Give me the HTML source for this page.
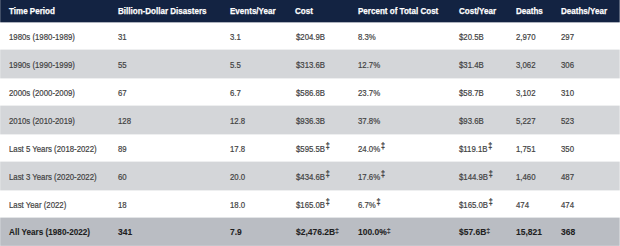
<!DOCTYPE html><html><head><meta charset='utf-8'><style>
html,body{margin:0;padding:0;width:620px;height:246px;overflow:hidden;background:#fff}
.r{position:absolute;left:0;width:620px;}
.h{top:0;height:22px;background:#132342;}
.t{position:absolute;white-space:nowrap;font-family:"Liberation Sans",sans-serif;transform-origin:0 0;}
.hb{font-weight:bold;font-size:9.3px;color:#fff;transform:scaleX(0.865);top:6.2px;-webkit-text-stroke:0.25px #fff;}
.d{font-size:9px;color:#424242;transform:scaleX(0.867);top:9.5px;-webkit-text-stroke:0.2px #424242;}
.tot{font-weight:bold;color:#1e1e1e;transform:scaleX(0.94);top:9.2px;-webkit-text-stroke:0.1px #1e1e1e;}
.tot.c0{transform:scaleX(0.906);}
.tot sup{top:-2.4px;font-size:7.5px;margin-left:0px;font-weight:normal;}
.tot.c3,.tot.c5{margin-left:0.3px;}
sup{font-size:8.2px;vertical-align:baseline;position:relative;top:-2.5px;margin-left:0.9px;font-weight:bold;}
</style></head><body>
<div class='r h'>
<span class='t hb' style='left:8.6px'>Time Period</span>
<span class='t hb' style='left:118.3px'>Billion-Dollar Disasters</span>
<span class='t hb' style='left:229.8px'>Events/Year</span>
<span class='t hb' style='left:295.4px'>Cost</span>
<span class='t hb' style='left:357.9px'>Percent of Total Cost</span>
<span class='t hb' style='left:458.8px'>Cost/Year</span>
<span class='t hb' style='left:515.6px'>Deaths</span>
<span class='t hb' style='left:560.8px'>Deaths/Year</span>
</div>
<div class='r' style='top:22px;height:28px;background:#fff'>
<span class='t d c0' style='left:8.6px'>1980s (1980-1989)</span>
<span class='t d c1' style='left:118.3px'>31</span>
<span class='t d c2' style='left:229.8px'>3.1</span>
<span class='t d c3' style='left:295.9px'>$204.9B</span>
<span class='t d c4' style='left:357.9px'>8.3%</span>
<span class='t d c5' style='left:459.2px'>$20.5B</span>
<span class='t d c6' style='left:515.6px'>2,970</span>
<span class='t d c7' style='left:560.8px'>297</span>
</div>
<div class='r' style='top:50px;height:28px;background:#d4d6d9'>
<span class='t d c0' style='left:8.6px'>1990s (1990-1999)</span>
<span class='t d c1' style='left:118.3px'>55</span>
<span class='t d c2' style='left:229.8px'>5.5</span>
<span class='t d c3' style='left:295.9px'>$313.6B</span>
<span class='t d c4' style='left:357.9px'>12.7%</span>
<span class='t d c5' style='left:459.2px'>$31.4B</span>
<span class='t d c6' style='left:515.6px'>3,062</span>
<span class='t d c7' style='left:560.8px'>306</span>
</div>
<div class='r' style='top:78px;height:28px;background:#fff'>
<span class='t d c0' style='left:8.6px'>2000s (2000-2009)</span>
<span class='t d c1' style='left:118.3px'>67</span>
<span class='t d c2' style='left:229.8px'>6.7</span>
<span class='t d c3' style='left:295.9px'>$586.8B</span>
<span class='t d c4' style='left:357.9px'>23.7%</span>
<span class='t d c5' style='left:459.2px'>$58.7B</span>
<span class='t d c6' style='left:515.6px'>3,102</span>
<span class='t d c7' style='left:560.8px'>310</span>
</div>
<div class='r' style='top:106px;height:28px;background:#d4d6d9'>
<span class='t d c0' style='left:8.6px'>2010s (2010-2019)</span>
<span class='t d c1' style='left:118.3px'>128</span>
<span class='t d c2' style='left:229.8px'>12.8</span>
<span class='t d c3' style='left:295.9px'>$936.3B</span>
<span class='t d c4' style='left:357.9px'>37.8%</span>
<span class='t d c5' style='left:459.2px'>$93.6B</span>
<span class='t d c6' style='left:515.6px'>5,227</span>
<span class='t d c7' style='left:560.8px'>523</span>
</div>
<div class='r' style='top:134px;height:28px;background:#fff'>
<span class='t d c0' style='left:8.6px'>Last 5 Years (2018-2022)</span>
<span class='t d c1' style='left:118.3px'>89</span>
<span class='t d c2' style='left:229.8px'>17.8</span>
<span class='t d c3' style='left:295.9px'>$595.5B<sup>&#8225;</sup></span>
<span class='t d c4' style='left:357.9px'>24.0%<sup>&#8225;</sup></span>
<span class='t d c5' style='left:459.2px'>$119.1B<sup>&#8225;</sup></span>
<span class='t d c6' style='left:515.6px'>1,751</span>
<span class='t d c7' style='left:560.8px'>350</span>
</div>
<div class='r' style='top:162px;height:28px;background:#d4d6d9'>
<span class='t d c0' style='left:8.6px'>Last 3 Years (2020-2022)</span>
<span class='t d c1' style='left:118.3px'>60</span>
<span class='t d c2' style='left:229.8px'>20.0</span>
<span class='t d c3' style='left:295.9px'>$434.6B<sup>&#8225;</sup></span>
<span class='t d c4' style='left:357.9px'>17.6%<sup>&#8225;</sup></span>
<span class='t d c5' style='left:459.2px'>$144.9B<sup>&#8225;</sup></span>
<span class='t d c6' style='left:515.6px'>1,460</span>
<span class='t d c7' style='left:560.8px'>487</span>
</div>
<div class='r' style='top:190px;height:28px;background:#fff'>
<span class='t d c0' style='left:8.6px'>Last Year (2022)</span>
<span class='t d c1' style='left:118.3px'>18</span>
<span class='t d c2' style='left:229.8px'>18.0</span>
<span class='t d c3' style='left:295.9px'>$165.0B<sup>&#8225;</sup></span>
<span class='t d c4' style='left:357.9px'>6.7%<sup>&#8225;</sup></span>
<span class='t d c3' style='left:459.2px'>$165.0B<sup>&#8225;</sup></span>
<span class='t d c6' style='left:515.6px'>474</span>
<span class='t d c6' style='left:560.8px'>474</span>
</div>
<div class='r' style='top:218px;height:28px;background:#babdc3'>
<span class='t d tot c0' style='left:8.6px'>All Years (1980-2022)</span>
<span class='t d tot c1' style='left:118.3px'>341</span>
<span class='t d tot c2' style='left:229.8px'>7.9</span>
<span class='t d tot c3' style='left:295.9px'>$2,476.2B<sup>&#8225;</sup></span>
<span class='t d tot c4' style='left:357.9px'>100.0%<sup>&#8225;</sup></span>
<span class='t d tot c5' style='left:459.2px'>$57.6B<sup>&#8225;</sup></span>
<span class='t d tot c6' style='left:515.6px'>15,821</span>
<span class='t d tot c7' style='left:560.8px'>368</span>
</div>
<div style='position:absolute;left:0;top:22px;width:620px;height:1px;background:rgba(19,35,66,0.35)'></div>
<div style='position:absolute;left:0;top:49px;width:620px;height:1px;background:rgba(212,214,217,0.4)'></div>
<div style='position:absolute;left:0;top:78px;width:620px;height:1px;background:rgba(212,214,217,0.4)'></div>
<div style='position:absolute;left:0;top:105px;width:620px;height:1px;background:rgba(212,214,217,0.4)'></div>
<div style='position:absolute;left:0;top:134px;width:620px;height:1px;background:rgba(212,214,217,0.4)'></div>
<div style='position:absolute;left:0;top:161px;width:620px;height:1px;background:rgba(212,214,217,0.4)'></div>
<div style='position:absolute;left:0;top:190px;width:620px;height:1px;background:rgba(212,214,217,0.4)'></div>
<div style='position:absolute;left:0;top:217px;width:620px;height:1px;background:rgba(186,189,195,0.4)'></div>
<div style='position:absolute;left:0;top:0;width:1px;height:246px;background:rgba(255,255,255,0.2)'></div>
<div style='position:absolute;left:619px;top:0;width:1px;height:246px;background:rgba(255,255,255,0.3)'></div>
<div style='position:absolute;left:0;top:245px;width:620px;height:1px;background:rgba(255,255,255,0.15)'></div>
</body></html>
